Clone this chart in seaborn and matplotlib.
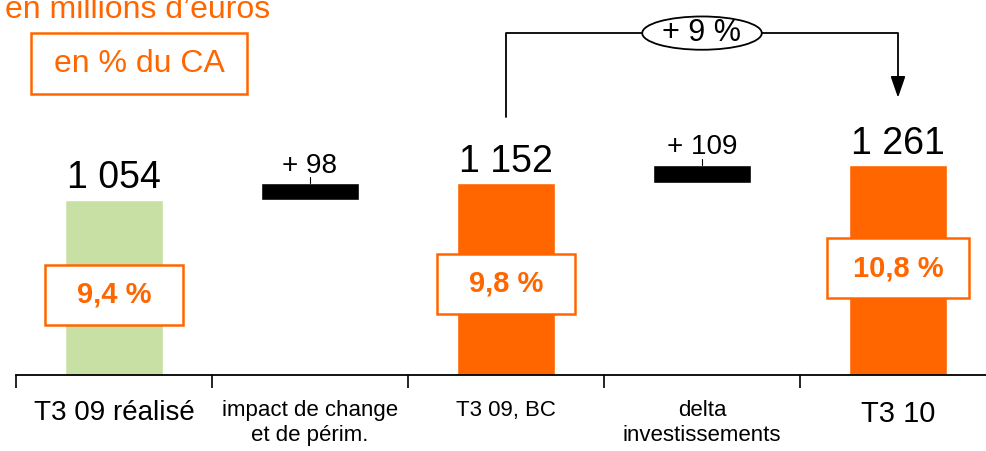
import matplotlib
matplotlib.use("Agg")
import matplotlib.pyplot as plt
from matplotlib.patches import Rectangle, Ellipse
import seaborn as sns

# data
categories = ["T3 09 réalisé", "impact de change\net de périm.", "T3 09, BC",
              "delta\ninvestissements", "T3 10"]
totals = [1054, None, 1152, None, 1261]
deltas = [None, 98, None, 109, None]
total_labels = ["1 054", "", "1 152", "", "1 261"]
delta_labels = ["", "+ 98", "", "+ 109", ""]
pct_labels = ["9,4 %", "", "9,8 %", "", "10,8 %"]
growth_label = "+ 9 %"

ORANGE = "#FF6600"
GREEN = "#C9E0A5"

sns.set_style("white")
plt.rcParams["font.family"] = ["Liberation Sans", "DejaVu Sans"]
plt.rcParams["text.color"] = "black"
plt.rcParams["xtick.color"] = "black"

fig = plt.figure(figsize=(9.87, 4.51), dpi=100)
ax = fig.add_axes([16 / 987, 76 / 451, 980 / 987, 375 / 451])

# totals as seaborn bars
bar_cats = [c for c, t in zip(categories, totals) if t is not None]
bar_vals = [t for t in totals if t is not None]
colors = {bar_cats[0]: GREEN, bar_cats[1]: ORANGE, bar_cats[2]: ORANGE}
sns.barplot(x=bar_cats, y=bar_vals, hue=bar_cats, palette=colors, order=categories,
            width=0.5, saturation=1, legend=False, ax=ax)

# floating delta bars
running = 0
for i, (t, d) in enumerate(zip(totals, deltas)):
    if t is not None:
        running = t
    else:
        ax.bar(i, d, bottom=running, width=0.5, color="black")
        ax.plot([i, i], [running + d, running + d + 40], color="black", lw=0.8)
        ax.text(i, running + d + 65, delta_labels[i], ha="center", va="baseline",
                fontsize=20)
        running += d

# value labels on totals
for i, t in enumerate(totals):
    if t is not None:
        ax.text(i, t + 70, total_labels[i], ha="center", va="baseline", fontsize=27)

# percentage boxes
pct_y = {0: 481, 2: 547, 4: 643}
for i, yc in pct_y.items():
    w = 0.72 if i == 4 else 0.70
    ax.add_patch(Rectangle((i - w / 2, yc - 180), w, 360, facecolor="white",
                           edgecolor=ORANGE, lw=1.8, zorder=3))
    ax.text(i, yc, pct_labels[i], ha="center", va="center", fontsize=21,
            fontweight="bold", color=ORANGE, zorder=4)

# growth bracket
y_top = 2055
ax.plot([2, 2, 4, 4], [totals[2] + 400, y_top, y_top, 1760], color="black", lw=1.3,
        clip_on=False)
ax.annotate("", xy=(4, 1650), xytext=(4, 1770),
            arrowprops=dict(arrowstyle="-|>,head_width=0.45,head_length=1.3",
                            color="black", lw=1.3), annotation_clip=False)
ax.add_patch(Ellipse((3, y_top), 0.61, 200, facecolor="white", edgecolor="black",
                     lw=1.3, zorder=3, clip_on=False))
ax.text(3, y_top, growth_label, ha="center", va="center", fontsize=22, zorder=4)

# axes styling
ax.set_xlim(-0.5, 4.5)
ax.set_ylim(0, 2254)
for s in ["top", "left", "right"]:
    ax.spines[s].set_visible(False)
ax.spines["bottom"].set_color("black")
ax.spines["bottom"].set_linewidth(1.3)
ax.set_yticks([])
ax.set_xticks([i - 0.5 for i in range(6)])
ax.set_xticklabels([])
ax.tick_params(axis="x", which="major", direction="out", length=9, width=1.2,
               color="black", bottom=True)
ax.set_xticks(range(5), minor=True)
ax.set_xticklabels(categories, minor=True, linespacing=1.25)
ax.tick_params(axis="x", which="minor", length=0, pad=18)
sizes = [20, 16, 16, 16, 21]
for lab, fs in zip(ax.get_xticklabels(minor=True), sizes):
    lab.set_fontsize(fs)
    lab.set_verticalalignment("top")

# header texts
fig.text(5 / 987, 1 - 18 / 451, "en millions d\u2019euros", color=ORANGE, fontsize=23,
         va="baseline", ha="left")
fig.add_artist(Rectangle((31 / 987, 1 - 94 / 451), 216 / 987, 61 / 451,
                         transform=fig.transFigure, facecolor="none",
                         edgecolor=ORANGE, lw=1.8))
fig.text(139 / 987, 1 - 64 / 451, "en % du CA", color=ORANGE, fontsize=23,
         va="center", ha="center")

fig.savefig("out.png", dpi=100)
